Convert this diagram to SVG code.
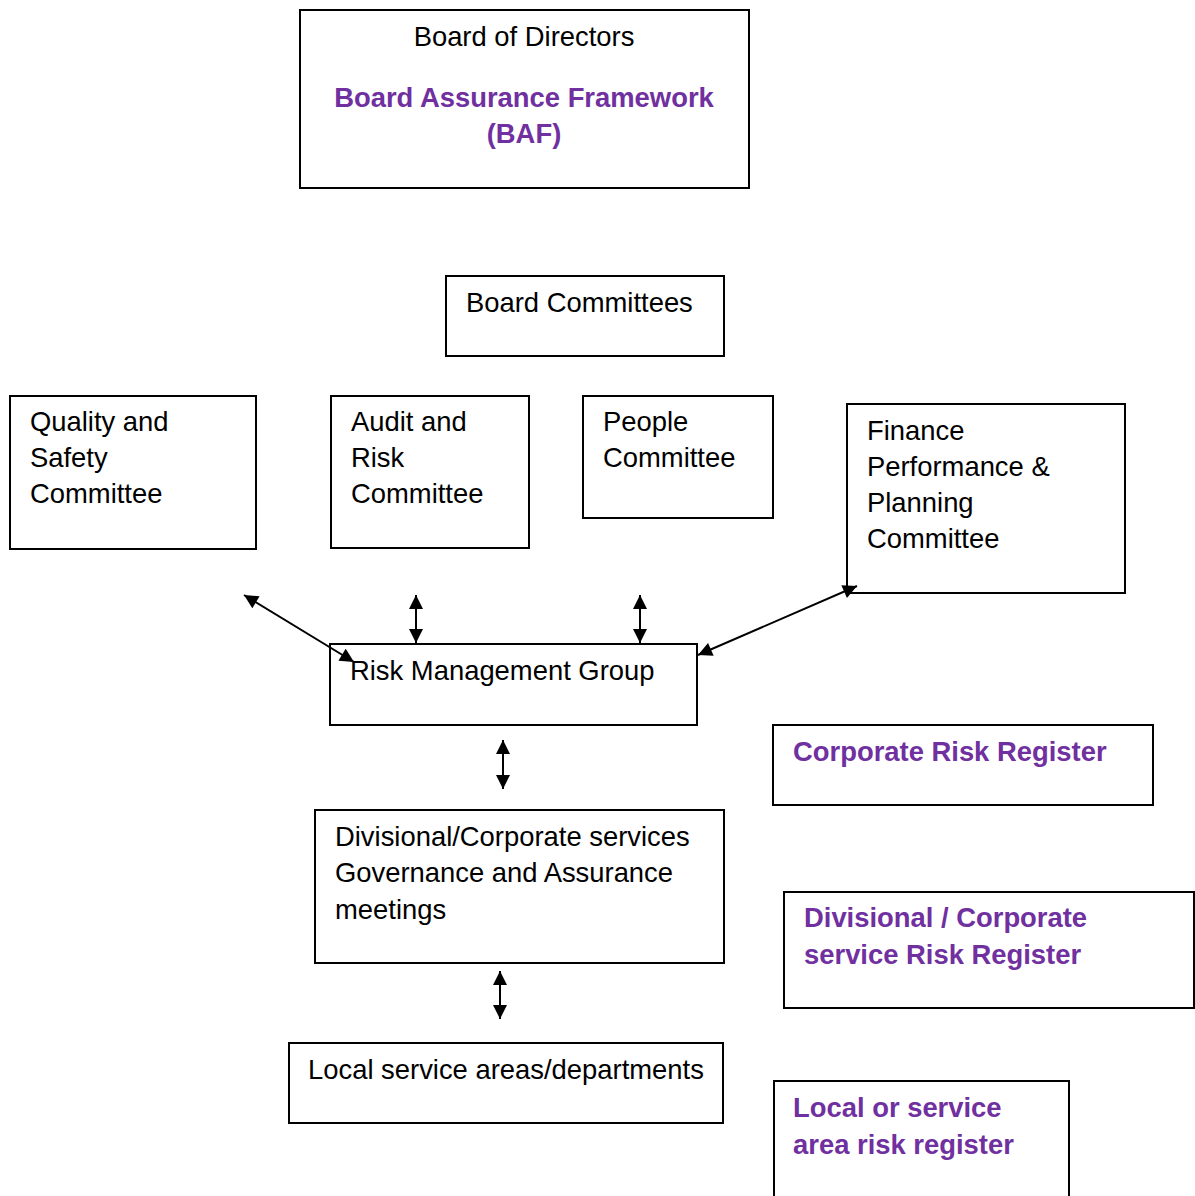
<svg xmlns="http://www.w3.org/2000/svg" width="1195" height="1196" viewBox="0 0 1195 1196">
<defs>
<style>
.box{fill:#fff;stroke:#000;stroke-width:2}
.t{font-family:"Liberation Sans",Arial,sans-serif;font-size:27.4px;fill:#000}
.p{font-family:"Liberation Sans",Arial,sans-serif;font-size:27.4px;font-weight:bold;fill:#7030A0}
.c{stroke:#000;stroke-width:2;fill:none;marker-start:url(#ah);marker-end:url(#ah)}
</style>
<marker id="ah" viewBox="0 0 10 10" refX="10" refY="5" markerWidth="8" markerHeight="7" markerUnits="strokeWidth" orient="auto-start-reverse">
<path d="M0,0 L10,5 L0,10 Z" fill="#000"/>
</marker>
</defs>
<rect width="1195" height="1196" fill="#fff"/>
<g id="board">
<rect class="box" x="300" y="10" width="449" height="178"/>
<text class="t" x="524" y="46" text-anchor="middle">Board of Directors</text>
<text class="p" x="524" y="107" text-anchor="middle">Board Assurance Framework</text>
<text class="p" x="524" y="143" text-anchor="middle">(BAF)</text>
</g>
<g id="committees">
<rect class="box" x="446" y="276" width="278" height="80"/>
<text class="t" x="466" y="312">Board Committees</text>
</g>
<g id="quality">
<rect class="box" x="10" y="396" width="246" height="153"/>
<text class="t" x="30" y="431">Quality and</text>
<text class="t" x="30" y="467">Safety</text>
<text class="t" x="30" y="503">Committee</text>
</g>
<g id="audit">
<rect class="box" x="331" y="396" width="198" height="152"/>
<text class="t" x="351" y="431">Audit and</text>
<text class="t" x="351" y="467">Risk</text>
<text class="t" x="351" y="503">Committee</text>
</g>
<g id="people">
<rect class="box" x="583" y="396" width="190" height="122"/>
<text class="t" x="603" y="431">People</text>
<text class="t" x="603" y="467">Committee</text>
</g>
<g id="finance">
<rect class="box" x="847" y="404" width="278" height="189"/>
<text class="t" x="867" y="440">Finance</text>
<text class="t" x="867" y="476">Performance &amp;</text>
<text class="t" x="867" y="512">Planning</text>
<text class="t" x="867" y="548">Committee</text>
</g>
<g id="rmg">
<rect class="box" x="330" y="644" width="367" height="81"/>
<text class="t" x="350" y="680">Risk Management Group</text>
</g>
<g id="crr">
<rect class="box" x="773" y="725" width="380" height="80"/>
<text class="p" x="793" y="761">Corporate Risk Register</text>
</g>
<g id="divisional">
<rect class="box" x="315" y="810" width="409" height="153"/>
<text class="t" x="335" y="846">Divisional/Corporate services</text>
<text class="t" x="335" y="882">Governance and Assurance</text>
<text class="t" x="335" y="919">meetings</text>
</g>
<g id="divrr">
<rect class="box" x="784" y="892" width="410" height="116"/>
<text class="p" x="804" y="927">Divisional / Corporate</text>
<text class="p" x="804" y="964">service Risk Register</text>
</g>
<g id="local">
<rect class="box" x="289" y="1043" width="434" height="80"/>
<text class="t" x="308" y="1079">Local service areas/departments</text>
</g>
<g id="localrr">
<rect class="box" x="774" y="1081" width="295" height="130"/>
<text class="p" x="793" y="1117">Local or service</text>
<text class="p" x="793" y="1154">area risk register</text>
</g>
<g id="connectors">
<line class="c" x1="244" y1="595" x2="354" y2="662"/>
<line class="c" x1="416" y1="595" x2="416" y2="643"/>
<line class="c" x1="640" y1="595" x2="640" y2="643"/>
<line class="c" x1="857" y1="586" x2="698" y2="655"/>
<line class="c" x1="503" y1="740" x2="503" y2="789"/>
<line class="c" x1="500" y1="971" x2="500" y2="1019"/>
</g>
</svg>
